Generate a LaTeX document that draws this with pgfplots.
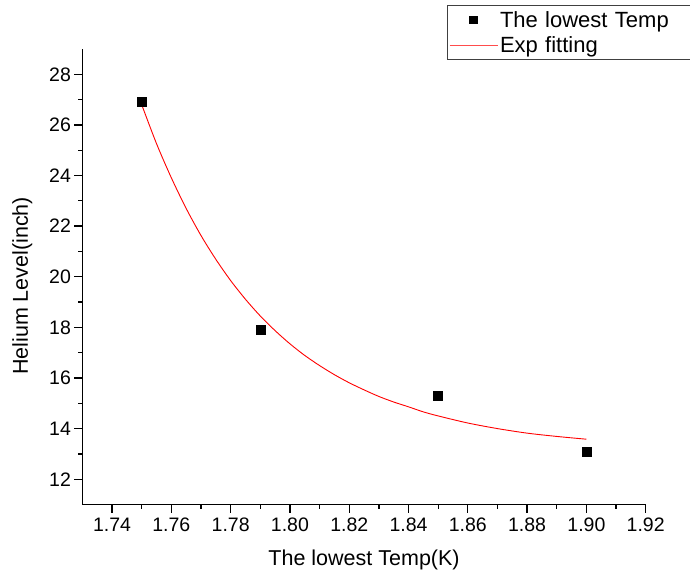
\documentclass[border=0pt]{standalone}
\usepackage{fontspec}
\setmainfont{Liberation Sans}
\usepackage{pgfplots}
\pgfplotsset{compat=1.18}
\begin{document}
\begin{tikzpicture}
\begin{axis}[
  name=ax,
  scale only axis,
  width=563.3bp, height=455.5bp,
  xmin=1.73, xmax=1.92, ymin=11, ymax=29,
  axis x line*=bottom, axis y line*=left,
  axis line style={line width=1.3bp, black},
  xtick={1.74,1.76,...,1.92},
  minor x tick num=1,
  ytick={12,14,...,28},
  minor y tick num=1,
  tick align=outside,
  major tick length=8bp, minor tick length=4bp,
  every tick/.style={line width=1.3bp, black},
  /pgf/number format/assume math mode=true,
  xticklabel style={/pgf/number format/.cd, fixed, fixed zerofill, precision=2, /tikz/yshift=-2bp},
  yticklabel style={/pgf/number format/.cd, fixed, precision=0},
  tick label style={font=\fontsize{19.5bp}{22bp}\selectfont},
  label style={font=\fontsize{21.5bp}{25bp}\selectfont},
  xlabel={The lowest Temp(K)},
  ylabel={Helium Level(inch)},
  xlabel style={yshift=-11bp},
  ylabel style={at={(ticklabel cs:0.48)}, yshift=10bp},
  legend cell align=left,
  legend style={at={(rel axis cs:0.6473,1.0966)}, anchor=north west,
    draw=black!75, line width=1bp, inner xsep=1.5bp, inner ysep=4bp,
    font=\fontsize{22bp}{25bp}\selectfont,
    /tikz/row sep=3.5bp,
    nodes={text width=200bp}},
]
\addplot[only marks, mark=square*, mark size=4.5bp, black,
  legend image code/.code={\draw[mark=square*, mark size=3.7bp, black] plot coordinates {(24bp,0cm)};}]
  coordinates {(1.75,26.9) (1.79,17.9) (1.85,15.3) (1.90,13.1)};
\addlegendentry{The lowest Temp}
\addplot[red, line width=0.9bp, smooth,
  legend image code/.code={\draw[red!70, line width=1bp] (0bp,0bp) -- (48bp,0bp);}]
  coordinates {
  (1.750,26.80) (1.755,25.26) (1.760,23.91) (1.765,22.70) (1.770,21.63)
  (1.775,20.69) (1.780,19.85) (1.785,19.11) (1.790,18.45) (1.795,17.87)
  (1.800,17.35) (1.805,16.89) (1.810,16.49) (1.815,16.13) (1.820,15.81)
  (1.825,15.53) (1.830,15.27) (1.835,15.05) (1.840,14.86) (1.845,14.66)
  (1.850,14.50) (1.860,14.22) (1.870,14.00) (1.880,13.82) (1.890,13.69)
  (1.900,13.58)};
\addlegendentry{Exp fitting}
\end{axis}
\pgfresetboundingbox
\path[use as bounding box] ([shift={(-82.4bp,-71.5bp)}]ax.south west) rectangle ++(690bp,576bp);
\end{tikzpicture}
\end{document}
